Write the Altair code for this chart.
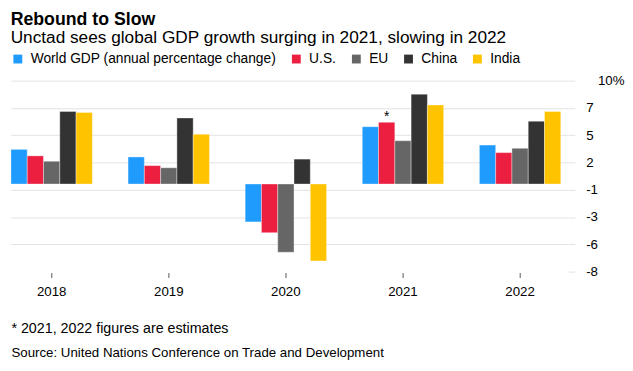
import altair as alt
import pandas as pd

years = ["2018", "2019", "2020", "2021", "2022"]
series_names = ["World GDP (annual percentage change)", "U.S.", "EU", "China", "India"]
world = [3.2, 2.5, -3.5, 5.3, 3.6]
us = [2.6, 1.7, -4.5, 5.7, 2.9]
eu = [2.1, 1.5, -6.3, 4.0, 3.3]
china = [6.7, 6.1, 2.3, 8.3, 5.8]
india = [6.6, 4.6, -7.1, 7.3, 6.7]
colors = ["#1e9bfc", "#ec1f41", "#666666", "#333333", "#ffc300"]

y_ticks = [9.545, 7.026, 4.507, 1.988, -0.531, -3.05, -5.569, -8.09]
y_tick_labels = ["10%", "7", "5", "2", "-1", "-3", "-6", "-8"]

note_year = "2021"
note_series = "U.S."
note_label = "*"

title_text = "Rebound to Slow"
subtitle_text = "Unctad sees global GDP growth surging in 2021, slowing in 2022"
footnote_text = "* 2021, 2022 figures are estimates"
source_text = "Source: United Nations Conference on Trade and Development"

FONT = "Liberation Sans"

rows = []
for name, vals in zip(series_names, [world, us, eu, china, india]):
    for yr, v in zip(years, vals):
        rows.append({
            "year": yr,
            "series": name,
            "value": v,
            "note": note_label if (yr == note_year and name == note_series) else "",
        })
df = pd.DataFrame(rows)

label_expr = "[" + ",".join("'" + s + "'" for s in y_tick_labels) + "][indexof([" + \
    ",".join(str(t) for t in y_ticks) + "], datum.value)]"

base = alt.Chart(df).encode(
    x=alt.X(
        "year:N",
        sort=years,
        scale=alt.Scale(paddingInner=0.305, paddingOuter=0.0305, align=0),
        title=footnote_text,
        axis=alt.Axis(
            labelAngle=0,
            domain=False,
            grid=False,
            ticks=True,
            tickColor="#555555",
            tickSize=5,
            tickWidth=1,
            offset=1,
            labelFontSize=13.5,
            labelFont=FONT,
            labelColor="#000000",
            labelPadding=7,
            titleFont=FONT,
            titleFontSize=14.5,
            titleFontWeight="normal",
            titleColor="#000000",
            titleAlign="left",
            titleBaseline="alphabetic",
            titleX=0,
            titleY=61,
        ),
    ),
    xOffset=alt.XOffset(
        "series:N",
        sort=series_names,
        scale=alt.Scale(domain=series_names, paddingInner=0, paddingOuter=0),
    ),
    y=alt.Y(
        "value:Q",
        scale=alt.Scale(domain=[y_ticks[-1], y_ticks[0]], nice=False, zero=True),
        title=source_text,
        axis=alt.Axis(
            orient="right",
            values=y_ticks,
            labelExpr=label_expr,
            domain=False,
            grid=True,
            gridColor="#e2e2e2",
            gridWidth=1,
            gridOpacity={"condition": {"test": "datum.value < -8", "value": 0}, "value": 1},
            tickColor="#e2e2e2",
            tickSize=7,
            labelFontSize=13.5,
            labelFont=FONT,
            labelColor="#000000",
            labelAlign="left",
            labelPadding={"condition": {"test": "datum.value > 9", "value": 23}, "value": 11},
            titleFont=FONT,
            titleFontSize=13.5,
            titleFontWeight="normal",
            titleColor="#000000",
            titleAngle=0,
            titleAlign="left",
            titleBaseline="alphabetic",
            titleX=-566,
            titleY=280,
        ),
    ),
)

bars = base.mark_bar(stroke="white", strokeWidth=0.6, strokeOpacity=0.6).encode(
    color=alt.Color(
        "series:N",
        sort=series_names,
        scale=alt.Scale(domain=series_names, range=colors),
        legend=alt.Legend(
            orient="none",
            legendX=0,
            legendY=-29,
            direction="horizontal",
            title=None,
            symbolType="square",
            symbolSize=81,
            symbolStrokeWidth=0,
            labelFontSize=14,
            labelFont=FONT,
            labelColor="#000000",
            labelOffset=6,
            labelLimit=0,
            columnPadding=13,
            padding=0,
        ),
    )
)

notes = base.mark_text(baseline="alphabetic", dy=-1, fontSize=14, font=FONT, color="#000000").encode(
    text="note:N"
)

chart = (
    alt.layer(bars, notes)
    .properties(
        width=566,
        height=194,
        padding={"left": 2, "top": 0, "right": 0, "bottom": 0},
        title=alt.TitleParams(
            text=title_text,
            subtitle=subtitle_text,
            anchor="start",
            font=FONT,
            fontSize=18,
            fontWeight="bold",
            color="#000000",
            subtitleFont=FONT,
            subtitleFontSize=17.5,
            subtitleColor="#000000",
            subtitlePadding=1,
            offset=5.5,
        ),
    )
    .configure_view(stroke=None)
)

chart.save("out.html", embed_options={"renderer": "svg", "actions": False})
